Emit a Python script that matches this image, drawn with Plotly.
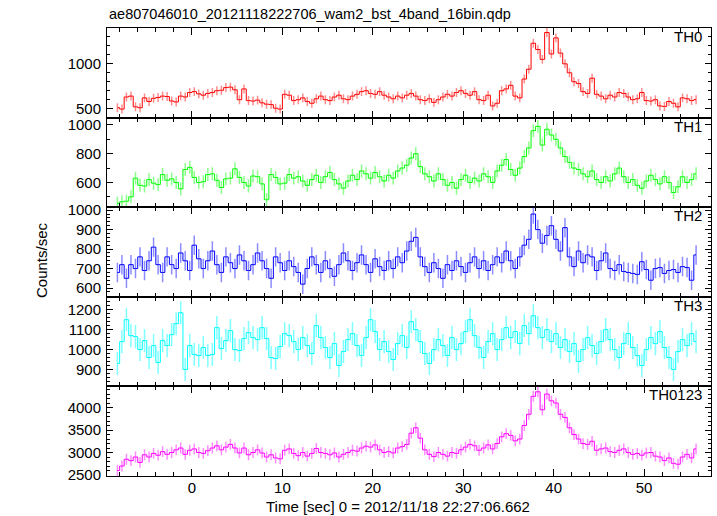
import plotly.graph_objects as go
from plotly.subplots import make_subplots

# ---- data (0.5 s bins) ----
t_start = -8.25
bin_width = 0.5

th0 = [510, 495, 630, 640, 520, 510, 620, 580, 615, 625,
       640, 635, 585, 575, 640, 630, 680, 690, 665, 650,
       670, 680, 700, 705, 735, 740, 710, 600, 720, 590,
       585, 595, 565, 550, 545, 505, 495, 660, 650, 590,
       600, 620, 580, 560, 610, 640, 600, 590, 630, 650,
       610, 600, 640, 660, 690, 700, 670, 660, 690, 650,
       630, 610, 640, 620, 650, 670, 640, 600, 590, 610,
       570, 600, 630, 660, 640, 680, 700, 670, 650, 690,
       600, 590, 650, 530, 560, 700, 720, 760, 640, 620,
       830, 940, 1230, 1160, 1050, 1350, 1110, 1290, 1120, 1000,
       900, 800, 780, 690, 670, 840, 660, 640, 610, 650,
       630, 680, 670, 630, 600, 610, 680, 590, 585, 600,
       530, 525, 580, 560, 520, 620, 610, 590, 600]

th1 = [455, 465, 470, 500, 630, 580, 575, 620, 595, 585,
       655, 615, 625, 600, 555, 690, 705, 635, 600, 605,
       655, 660, 615, 565, 625, 630, 695, 635, 600, 575,
       645, 640, 590, 480, 655, 635, 590, 595, 655, 630,
       640, 610, 580, 620, 650, 600, 640, 670, 620, 590,
       560, 610, 650, 620, 680, 660, 630, 670, 640, 610,
       650, 630, 680, 700, 720, 770, 800, 710, 660, 640,
       610, 660, 620, 580, 600, 560, 620, 650, 600, 630,
       610, 660, 640, 600, 680, 720, 760, 690, 650, 700,
       780, 840, 960, 990, 860, 970, 930, 900, 840, 780,
       740, 700, 690, 660, 640, 680, 620, 600, 640, 610,
       660, 700, 640, 600, 620, 580, 560, 610, 650, 620,
       590, 640, 600, 530, 570, 640, 600, 620, 660]

th2 = [680, 720, 650, 720, 700, 760, 690, 740, 810, 720,
       680, 760, 720, 700, 780, 740, 690, 820, 750, 700,
       740, 790, 720, 680, 760, 730, 700, 770, 740, 690,
       720, 780, 740, 700, 650, 760, 730, 690, 740, 710,
       680, 620, 700, 760, 720, 680, 740, 700, 660, 720,
       780, 740, 690, 730, 770, 720, 680, 750, 710, 690,
       740, 700, 760, 730, 790, 840, 860, 760, 710, 680,
       730, 700, 650, 720, 690, 740, 710, 680, 730, 760,
       700, 740, 690, 720, 760, 730, 790, 740, 700, 760,
       820, 850, 980, 900, 830, 870, 920, 850, 790, 910,
       760, 710, 790, 730, 770, 760, 690, 740, 780, 700,
       690, 720, 685, 680, 675, 670, 735, 695, 640, 700,
       705, 675, 690, 695, 680, 710, 705, 640, 770]

th3 = [930, 1040, 1150, 1070, 1065, 1000, 1045, 960, 1020, 935,
       1045, 1020, 1075, 1130, 1185, 900, 1020, 975, 970, 1010,
       970, 975, 1110, 1005, 1045, 1095, 1000, 995, 1055, 1085,
       1060, 1050, 1110, 1055, 960, 955, 1015, 1080, 1070, 1040,
       1000, 1060, 1020, 980, 1120, 1060, 1010, 960, 1030, 920,
       990, 1050, 1080, 1020, 970, 1060, 1150, 1090, 1000, 1040,
       990, 950, 1030, 1070, 1010, 1140, 1100, 1040, 980, 930,
       1000, 1050, 1020, 970, 1060, 1000, 1030, 1090, 1150, 1070,
       1010, 960, 1040, 1080, 1000, 1050, 1110, 1060, 1090, 1030,
       1120, 1080, 1170, 1110, 1060, 1100, 1040, 1080, 1010, 1050,
       990, 1030, 940, 1000, 1060, 1020, 980, 1040, 1100, 1050,
       1000, 960, 1030, 1080, 1010, 970, 920, 1000, 1060, 1030,
       1090, 1010, 960, 900, 990, 1050, 1020, 1080, 1040]

th0123 = [2600, 2700, 2850, 2820, 2900, 2780, 2950, 2900, 2980, 2940,
          3020, 2960, 3000, 3060, 3100, 2960, 3050, 3080, 3000, 2980,
          3040, 3100, 3150, 3060, 3120, 3180, 3100, 2990, 3100, 2950,
          3000, 3060, 2990, 2900, 2950, 2880, 2860, 3050, 3080, 2980,
          2930, 3000, 2920, 2980, 3090, 3000, 2980, 2950, 2990, 2900,
          2960, 3000, 3050, 3030, 3100, 3140, 3120, 3170, 3060, 3000,
          3020, 2990, 3100, 3130, 3180, 3430, 3550, 3320, 3060, 2960,
          2910, 3000, 2960, 2920, 3000, 2980, 3060, 3120, 3180, 3150,
          3050, 3100, 3170, 3080, 3200, 3350, 3420, 3380, 3260, 3300,
          3600, 3850, 4250, 4350, 3950, 4300, 4150, 4100, 3850, 3780,
          3550, 3400, 3300, 3200, 3180, 3250, 3050, 3080, 3100, 3020,
          3000, 3050, 3080, 3000, 2960, 2980, 2940, 2990, 3000, 2920,
          2900, 2820, 2880, 2760, 2740, 2900, 2960, 2880, 3080]

band_names = ["TH0", "TH1", "TH2", "TH3", "TH0123"]
band_errors = [50, 45, 50, 58, 120]
y_ranges = [[400, 1400], [428, 1051], [555, 1015], [815, 1265], [2478, 4470]]
y_dticks = [500, 200, 100, 100, 500]
y_minor = [100, 100, 20, 20, 100]
x_range = [-9.4, 57.4]

title_text = "ae807046010_20121118222706_wam2_bst_4band_16bin.qdp"
x_title = "Time [sec] 0 = 2012/11/18 22:27:06.662"
y_title = "Counts/sec"

series = [th0, th1, th2, th3, th0123]
colors = ["#ff0000", "#00ff00", "#0000ff", "#00ffff", "#ff00ff"]
err_colors = ["rgba(255,0,0,0.45)", "rgba(0,255,0,0.45)", "rgba(0,0,255,0.45)",
              "rgba(0,255,255,0.5)", "rgba(255,0,255,0.45)"]

time = [t_start + bin_width * i for i in range(len(th0))]

FONT = "Liberation Sans, Arial, Helvetica, sans-serif"

fig = make_subplots(rows=5, cols=1, shared_xaxes=True, vertical_spacing=0)

for k, (vals, col, ecol, err) in enumerate(zip(series, colors, err_colors, band_errors)):
    fig.add_trace(go.Scatter(
        x=time, y=vals, mode="lines",
        line=dict(color=col, width=1, shape="hvh"),
        error_y=dict(type="constant", value=err, color=ecol, thickness=1.5, width=0),
        showlegend=False, hoverinfo="skip"), row=k + 1, col=1)

for k in range(5):
    fig.update_yaxes(row=k + 1, col=1,
                     range=y_ranges[k], dtick=y_dticks[k], tick0=0,
                     showline=True, linecolor="black", linewidth=1, mirror="ticks",
                     ticks="inside", ticklen=6, tickcolor="black", tickwidth=1,
                     minor=dict(dtick=y_minor[k], ticks="inside", ticklen=3,
                                tickcolor="black", tickwidth=1, showgrid=False),
                     showgrid=False, zeroline=False,
                     tickfont=dict(family=FONT, size=15, color="black"),
                     ticklabelstandoff=2)
    fig.update_xaxes(row=k + 1, col=1,
                     range=x_range, dtick=10, tick0=0,
                     showline=True, linecolor="black", linewidth=1, mirror="ticks",
                     ticks="inside", ticklen=7, tickcolor="black", tickwidth=1,
                     minor=dict(dtick=2, ticks="inside", ticklen=4,
                                tickcolor="black", tickwidth=1, showgrid=False),
                     showgrid=False, zeroline=False,
                     showticklabels=(k == 4),
                     tickfont=dict(family=FONT, size=15, color="black"),
                     ticklabelstandoff=-2)
    fig.add_annotation(text=band_names[k], xref="paper", x=1, xanchor="right", xshift=-7,
                       yref=f"y{'' if k == 0 else k + 1} domain", y=1, yanchor="top", yshift=2,
                       showarrow=False, font=dict(family=FONT, size=15, color="black"))

W, H = 717, 516
L, R, T, B = 107, 6, 28, 40
ph = H - T - B
pw = W - L - R

fig.add_annotation(text=title_text, xref="paper", x=0, xanchor="left",
                   yref="paper", y=1 + (T - 14) / ph, yanchor="middle",
                   showarrow=False, font=dict(family=FONT, size=14.5, color="black"))
fig.add_annotation(text=x_title, xref="paper", x=(398 - L) / pw, xanchor="center",
                   yref="paper", y=-(506 - (H - B)) / ph, yanchor="middle",
                   showarrow=False, font=dict(family=FONT, size=15, color="black"))
fig.add_annotation(text=y_title, xref="paper", x=(41 - L) / pw, xanchor="center",
                   yref="paper", y=((H - B) - 260) / ph, yanchor="middle", textangle=-90,
                   showarrow=False, font=dict(family=FONT, size=15, color="black"))

fig.update_layout(width=W, height=H, margin=dict(l=L, r=R, t=T, b=B),
                  paper_bgcolor="white", plot_bgcolor="white",
                  font=dict(family=FONT, size=15, color="black"))

fig.write_html("out.html", config={"displayModeBar": False},
               post_script="document.body.style.margin='0';")
